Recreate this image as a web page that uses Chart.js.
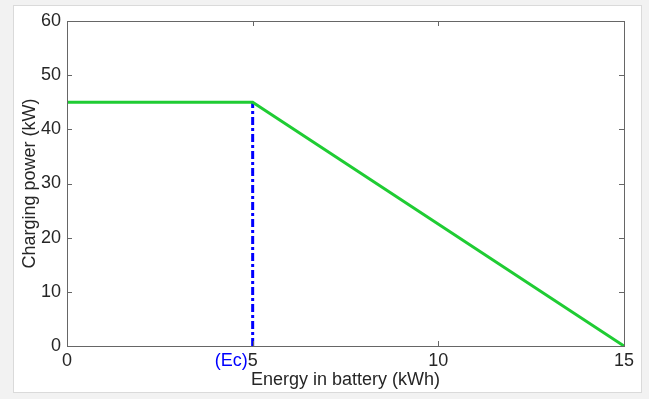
<!DOCTYPE html>
<html lang="en">

<head>
    <meta charset="UTF-8">
    <title>Charging power</title>
    <script src="https://cdn.jsdelivr.net/npm/chart.js"></script>
    <style>
        html, body { margin: 0; padding: 0; background: #f2f2f2; }
        #box { width: 649px; height: 399px; }
    </style>
</head>

<body>
    <div id="box">
        <canvas id="grafico" width="649" height="399"></canvas>
    </div>
</body>
<script>
    // data
    const energia = [0, 5, 15];
    const potencia = [45, 45, 0];
    const ecEnergia = [5, 5];
    const ecPotencia = [0, 45];
    const ticksX = [0, 5, 10, 15];
    const ticksY = [0, 10, 20, 30, 40, 50, 60];

    const fonte = '"Liberation Sans", Arial, Helvetica, sans-serif';
    const corTexto = '#262626';

    function pontos(xs, ys) {
        return xs.map((x, i) => ({ x: x, y: ys[i] }));
    }

    // white panel behind the axes
    const painel = {
        id: 'painel',
        beforeDraw(chart) {
            const c = chart.ctx;
            c.save();
            c.fillStyle = '#f2f2f2';
            c.fillRect(0, 0, chart.width, chart.height);
            c.fillStyle = '#ffffff';
            c.fillRect(13, 5, 629, 388);
            c.strokeStyle = '#dadada';
            c.lineWidth = 1;
            c.strokeRect(13.5, 5.5, 628, 387);
            c.restore();
        }
    };

    // box and inward ticks, plus the (Ec) label
    const moldura = {
        id: 'moldura',
        afterDraw(chart) {
            const c = chart.ctx;
            const a = chart.chartArea;
            const sx = chart.scales.x;
            const sy = chart.scales.y;
            c.save();
            c.strokeStyle = '#666666';
            c.lineWidth = 1;
            c.strokeRect(Math.round(a.left) + 0.5, Math.round(a.top) + 0.5,
                Math.round(a.right - a.left), Math.round(a.bottom - a.top));
            c.beginPath();
            sx.ticks.forEach((t, i) => {
                const px = Math.round(sx.getPixelForTick(i)) + 0.5;
                c.moveTo(px, a.bottom); c.lineTo(px, a.bottom - 5);
                c.moveTo(px, a.top); c.lineTo(px, a.top + 5);
            });
            sy.ticks.forEach((t, i) => {
                const py = Math.round(sy.getPixelForTick(i)) + 0.5;
                c.moveTo(a.left, py); c.lineTo(a.left + 5, py);
                c.moveTo(a.right, py); c.lineTo(a.right - 5, py);
            });
            c.stroke();

            c.font = '18px ' + fonte;
            const meia = c.measureText('5').width / 2;
            c.fillStyle = '#0000ff';
            c.textAlign = 'right';
            c.textBaseline = 'middle';
            const yy = sx.top + 4 + 18 * 1.2 / 2;
            c.fillText('(Ec)', sx.getPixelForValue(5) - meia, yy);
            c.restore();
        }
    };

    const config = {
        type: 'scatter',
        data: {
            datasets: [
                {
                    label: 'Potencia',
                    data: pontos(energia, potencia),
                    showLine: true,
                    borderColor: '#1fcc33',
                    borderWidth: 3,
                    pointRadius: 0,
                    tension: 0
                },
                {
                    label: 'Ec',
                    data: pontos(ecEnergia, ecPotencia),
                    showLine: true,
                    borderColor: '#0000ff',
                    borderWidth: 3,
                    borderDash: [8, 3, 3, 3],
                    pointRadius: 0
                }
            ]
        },
        options: {
            responsive: false,
            animation: false,
            layout: { padding: { left: 19, top: 21, right: 25, bottom: 8 } },
            plugins: { legend: { display: false }, tooltip: { enabled: false } },
            scales: {
                x: {
                    type: 'linear',
                    min: 0,
                    max: 15,
                    afterBuildTicks: (s) => { s.ticks = ticksX.map(v => ({ value: v })); },
                    afterFit: (s) => { s.height = 45; },
                    grid: { display: false, drawTicks: false },
                    border: { display: false },
                    ticks: { color: corTexto, font: { family: fonte, size: 18 }, padding: 4, maxRotation: 0 },
                    title: { display: true, text: 'Energy in battery (kWh)', color: corTexto, font: { family: fonte, size: 18 }, padding: 0 }
                },
                y: {
                    type: 'linear',
                    min: 0,
                    max: 60,
                    afterBuildTicks: (s) => { s.ticks = ticksY.map(v => ({ value: v })); },
                    afterFit: (s) => { s.width = 48; },
                    grid: { display: false, drawTicks: false },
                    border: { display: false },
                    ticks: { color: corTexto, font: { family: fonte, size: 18 }, padding: 6 },
                    title: { display: true, text: 'Charging power (kW)', color: corTexto, font: { family: fonte, size: 18 }, padding: 0 }
                }
            }
        },
        plugins: [painel, moldura]
    };

    let grafico = new Chart(document.getElementById('grafico'), config);
</script>

</html>
